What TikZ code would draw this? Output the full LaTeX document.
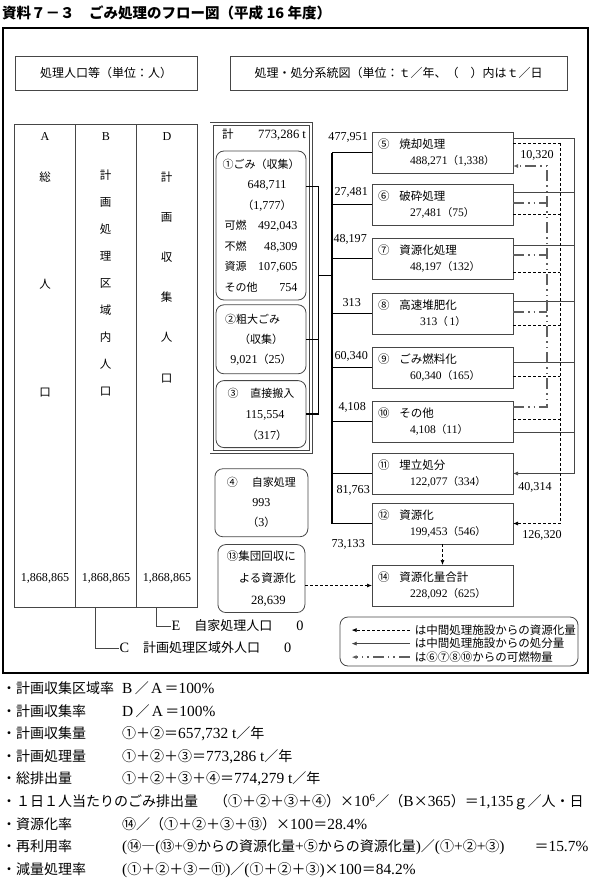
\documentclass[tikz,border=0pt]{standalone}
\usepackage{fontspec}
\setmainfont{Noto Sans CJK JP}
\newfontfamily\numfont{Liberation Serif}[Scale=1.1]
\newcommand{\vn}[1]{{\numfont #1}}
\newcommand{\proc}[3]{#1\hspace{10pt}#2\\\hspace*{32pt}{\fontsize{10.5}{16}\selectfont #3}}
\usetikzlibrary{arrows.meta,positioning,calc,fit}
\definecolor{linegray}{RGB}{70,70,70}
\definecolor{chaingray}{RGB}{95,95,95}

\begin{document}
\begin{tikzpicture}[x=1pt, y=-1pt,
    font=\fontsize{11.5}{14}\selectfont,
    hdrbox/.style={draw=linegray, line width=0.8pt, minimum height=34pt, inner sep=0pt,
        font=\fontsize{12}{14}\selectfont},
    colbox/.style={draw=linegray, line width=0.8pt, minimum width=61pt, minimum height=483pt,
        inner sep=0pt, outer sep=0pt},
    coltext/.style={align=center, anchor=north, inner sep=0pt},
    rbox/.style={draw=linegray, line width=0.8pt, rounded corners=8pt, align=center,
        inner sep=0pt, minimum width=90pt},
    procbox/.style={draw=linegray, line width=0.8pt, minimum width=141pt, minimum height=41pt,
        text width=129pt, inner sep=6pt, outer sep=0pt, align=left,
        font=\fontsize{11.5}{16}\selectfont},
    trunk/.style={line width=1.3pt},
    tip/.style={-{Latex[length=5pt,width=4pt]}},
    outline/.style={line width=0.7pt, linegray},
    recline/.style={line width=0.7pt, dash pattern=on 3pt off 2pt},
    chain/.style={line width=2.4pt, chaingray,
        dash pattern=on 11pt off 4pt on 1.5pt off 4pt on 1.5pt off 4pt},
    lbl/.style={font=\fontsize{11}{12}\selectfont, inner sep=1pt}
    ]
    \useasboundingbox (0,0) rectangle (599,880);

    % title and frame
    \node[anchor=west, inner sep=0pt, font=\fontsize{14.5}{16}\selectfont\bfseries] (title) at (2,13)
        {資料７－３　ごみ処理のフロー図（平成 16 年度）};
    \draw[line width=1.6pt] (3,28) rectangle (588,673);

    \node[hdrbox, minimum width=182pt] (hpop) at (106,73) {処理人口等（単位：人）};
    \node[hdrbox, minimum width=337pt] (hflow) at (398.5,73)
        {処理・処分系統図（単位：ｔ／年、（　）内はｔ／日};

    % population table
    \node[colbox] (colA) at (45,365.5) {};
    \node[colbox, right=0pt of colA] (colB) {};
    \node[colbox, right=0pt of colB] (colD) {};
    \node[lbl] (hA) at ($(colA.north)+(0,13)$) {\vn{A}};
    \node[lbl] (hB) at ($(colB.north)+(0,13)$) {\vn{B}};
    \node[lbl] (hD) at ($(colD.north)+(0,13)$) {\vn{D}};
    \node[coltext, font=\fontsize{11.5}{107.5}\selectfont] (tA) at (45,171.3) {総\\人\\口};
    \node[coltext, font=\fontsize{11.5}{27.1}\selectfont] (tB) at (105.5,169.3)
        {計\\画\\処\\理\\区\\域\\内\\人\\口};
    \node[coltext, font=\fontsize{11.5}{40.2}\selectfont] (tD) at (166.5,171.3)
        {計\\画\\収\\集\\人\\口};
    \node[lbl] (vA) at ($(colA.south)+(0,-29)$) {\vn{1,868,865}};
    \node[lbl] (vB) at ($(colB.south)+(0,-29)$) {\vn{1,868,865}};
    \node[lbl] (vD) at ($(colD.south)+(0,-29)$) {\vn{1,868,865}};

    \coordinate (cC) at ($(colB.south west)+(20,0)$);
    \coordinate (cE) at ($(colD.south west)+(20,0)$);
    \node[anchor=west, inner sep=1pt, font=\fontsize{13}{15}\selectfont] (popE) at ($(cE)+(14,19)$)
        {\vn{E}\hspace{14pt}自家処理人口\hspace{24pt}\vn{0}};
    \node[anchor=west, inner sep=1pt, font=\fontsize{13}{15}\selectfont] (popC) at ($(cC)+(23,41)$)
        {\vn{C}\hspace{14pt}計画処理区域外人口\hspace{24pt}\vn{0}};
    \draw[outline] (cE) |- (popE.west);
    \draw[outline] (cC) |- (popC.west);

    % collected waste
    \node[inner sep=1pt] (total) at (264,135) {\makebox[84pt]{計\hfill\vn{773,286 t}}};
    \node[rbox, minimum height=149pt, font=\fontsize{11}{20.5}\selectfont] (r1) at (261,225.5)
        {①ごみ（収集）\\ \hspace*{12pt}\vn{648,711}\\ \hspace*{12pt}（\vn{1,777}）\\
         \makebox[73pt]{可燃\hfill\vn{492,043}}\\ \makebox[73pt]{不燃\hfill\vn{48,309}}\\
         \makebox[73pt]{資源\hfill\vn{107,605}}\\ \makebox[73pt]{その他\hfill\vn{754}}};
    \node[rbox, minimum height=69pt, below=4pt of r1, font=\fontsize{11}{20}\selectfont] (r2)
        {②粗大ごみ\hspace*{17pt}\\ （収集）\\ \vn{9,021}（\vn{25}）};
    \node[rbox, minimum height=67pt, below=6pt of r2, font=\fontsize{11}{21}\selectfont] (r3)
        {③\hspace{12pt}直接搬入\\ \hspace*{8pt}\vn{115,554}\\ \hspace*{12pt}（\vn{317}）};
    \node[draw=linegray, double, double distance=2.4pt, line width=0.7pt, inner sep=4pt,
        fit=(total)(r1)(r3)] (grp) {};
    \node[rbox, minimum width=93pt, minimum height=68pt, below=16pt of grp,
        font=\fontsize{11}{20}\selectfont] (r4)
        {④\hspace{14pt}自家処理\\ \vn{993}\\ （\vn{3}）};
    \node[rbox, minimum width=87pt, minimum height=68pt, below=7pt of r4,
        font=\fontsize{11.5}{22}\selectfont] (r13)
        {⑬集団回収に\\ \hspace*{12pt}よる資源化\\ \hspace*{14pt}\vn{28,639}};

    % treatment boxes
    \node[procbox] (b5) at (442.5,152.5) {\proc{⑤}{焼却処理}{\vn{488,271}（\vn{1,338}）}};
    \node[procbox, below=11pt of b5] (b6) {\proc{⑥}{破砕処理}{\vn{27,481}（\vn{75}）}};
    \node[procbox, below=13pt of b6] (b7) {\proc{⑦}{資源化処理}{\vn{48,197}（\vn{132}）}};
    \node[procbox, below=14pt of b7] (b8) {\proc{⑧}{高速堆肥化}{\hspace*{10pt}\vn{313}（\,\vn{1}）}};
    \node[procbox, below=13pt of b8] (b9) {\proc{⑨}{ごみ燃料化}{\vn{60,340}（\vn{165}）}};
    \node[procbox, below=13pt of b9] (b10) {\proc{⑩}{その他}{\vn{4,108}（\vn{11}）}};
    \node[procbox, below=11pt of b10] (b11) {\proc{⑪}{埋立処分}{\vn{122,077}（\vn{334}）}};
    \node[procbox, below=9pt of b11] (b12) {\proc{⑫}{資源化}{\vn{199,453}（\vn{546}）}};
    \node[procbox, below=21pt of b12] (b14) {\proc{⑭}{資源化量合計}{\vn{228,092}（\vn{625}）}};

    % inflow
    \coordinate (c1) at ($(r1.north east)+(0,36)$);
    \coordinate (j1) at ($(c1)+(12,0)$);
    \coordinate (jm) at ($(j1)+(0,89)$);
    \coordinate (t5) at ($(b5.west)+(-40,0)$);
    \draw[trunk] (c1) -- (j1) -- (j1 |- r3.east) -- (r3.east);
    \draw[trunk] (r2.east) -- (j1 |- r2.east);
    \draw[trunk] (jm) -- (t5 |- jm);
    \draw[trunk] (t5) -- (t5 |- b12.west);
    \foreach \n in {5,...,12}
        \draw[trunk] (t5 |- b\n.west) -- (b\n.west);

    \node[lbl, anchor=east] (q5) at ($(b5.west)+(-3,-15)$) {\vn{477,951}};
    \node[lbl, anchor=east] (q6) at ($(b6.west)+(-3,-12.5)$) {\vn{27,481}};
    \node[lbl, anchor=east] (q7) at ($(b7.west)+(-4,-19)$) {\vn{48,197}};
    \node[lbl, anchor=east] (q8) at ($(b8.west)+(-10,-10.5)$) {\vn{313}};
    \node[lbl, anchor=east] (q9) at ($(b9.west)+(-3,-11.5)$) {\vn{60,340}};
    \node[lbl, anchor=east] (q10) at ($(b10.west)+(-5,-14.5)$) {\vn{4,108}};
    \node[lbl, anchor=east] (q11) at ($(b11.west)+(-1,16.5)$) {\vn{81,763}};
    \node[lbl, anchor=east] (q12) at ($(b12.west)+(-6,20.5)$) {\vn{73,133}};

    % outflow: disposal, recycling, burnables
    \coordinate (xs) at ($(b5.east)+(61,0)$);
    \coordinate (xd) at ($(b5.east)+(47,0)$);
    \coordinate (xc) at ($(b5.east)+(34,0)$);
    \foreach \n/\sy/\dy in {5/6/11, 6/8/30, 7/7/34, 8/8/32, 9/15/29, 10/31/18} {
        \draw[outline] ($(b\n.north east)+(0,\sy)$) coordinate (s\n) -- (s\n -| xs);
        \draw[recline] ($(b\n.north east)+(0,\dy)$) coordinate (d\n) -- (d\n -| xd);
    }
    \draw[outline, tip] (s5 -| xs) -- (xs |- b11.east) -- (b11.east);
    \draw[recline, tip] (d5 -| xd) -- (xd |- b12.east) -- (b12.east);
    \foreach \n/\cy in {6/19, 7/17, 8/19}
        \draw[chain] ($(b\n.north east)+(0,\cy)$) coordinate (k\n) -- (k\n -| xc);
    \coordinate (k10) at ($(b10.north east)+(0,6)$);
    \coordinate (k5) at ($(b5.north east)+(0,34)$);
    \draw[chain, tip] (k10) -- (k10 -| xc) -- (xc |- k5) -- (k5);

    \node[lbl] (w5) at ($(b5.east)+(24,2.5)$) {\vn{10,320}};
    \node[lbl] (w11) at ($(b11.east)+(22,13.5)$) {\vn{40,314}};
    \node[lbl] (w12) at ($(b12.east)+(29,11.5)$) {\vn{126,320}};

    \draw[recline, tip] (b12.south) -- (b14.north);
    \draw[recline, tip] (r13.east |- b14.west) -- (b14.west);

    % legend
    \node[draw=linegray, line width=0.8pt, rounded corners=8pt, minimum width=238pt,
        minimum height=49pt, inner sep=0pt] (leg) at (459,641.5) {};
    \foreach \i/\st/\txt in {1/recline/は中間処理施設からの資源化量,
                             2/outline/は中間処理施設からの処分量,
                             3/chain/は⑥⑦⑧⑩からの可燃物量} {
        \coordinate (la\i) at ($(leg.north west)+(70,13.5*\i)$);
        \draw[\st, tip] (la\i) -- ++(-58,0);
        \node[anchor=west, inner sep=1pt] (lt\i) at ($(la\i)+(4,0)$) {\txt};
    }

    % rates
    \node[anchor=north west, align=left, inner sep=0pt, font=\fontsize{14}{22.6}\selectfont] (notes)
        at (2,681.5) {%
        \makebox[120pt][l]{・計画収集区域率}\vn{B}\,／\,\vn{A}\,＝\vn{100\%}\\
        \makebox[120pt][l]{・計画収集率}\vn{D}\,／\,\vn{A}\,＝\vn{100\%}\\
        \makebox[120pt][l]{・計画収集量}①＋②＝\vn{657,732 t}／年\\
        \makebox[120pt][l]{・計画処理量}①＋②＋③＝\vn{773,286 t}／年\\
        \makebox[120pt][l]{・総排出量}①＋②＋③＋④＝\vn{774,279 t}／年\\
        ・１日１人当たりのごみ排出量\hspace{16pt}（①＋②＋③＋④）×\vn{10\textsuperscript{6}}／（\vn{B}×\vn{365}）＝\vn{1,135}ｇ／人・日\\
        \makebox[120pt][l]{・資源化率}⑭／（①＋②＋③＋⑬）×\vn{100}＝\vn{28.4\%}\\
        \makebox[120pt][l]{・再利用率}\vn{(}⑭―\vn{(}⑬\vn{+}⑨からの資源化量\vn{+}⑤からの資源化量\vn{)}／\vn{(}①\vn{+}②\vn{+}③\vn{)}\hspace{30pt}＝\vn{15.7\%}\\
        \makebox[120pt][l]{・減量処理率}\vn{(}①＋②＋③－⑪\vn{)}／\vn{(}①＋②＋③\vn{)}×\vn{100}＝\vn{84.2\%}};
\end{tikzpicture}
\end{document}
